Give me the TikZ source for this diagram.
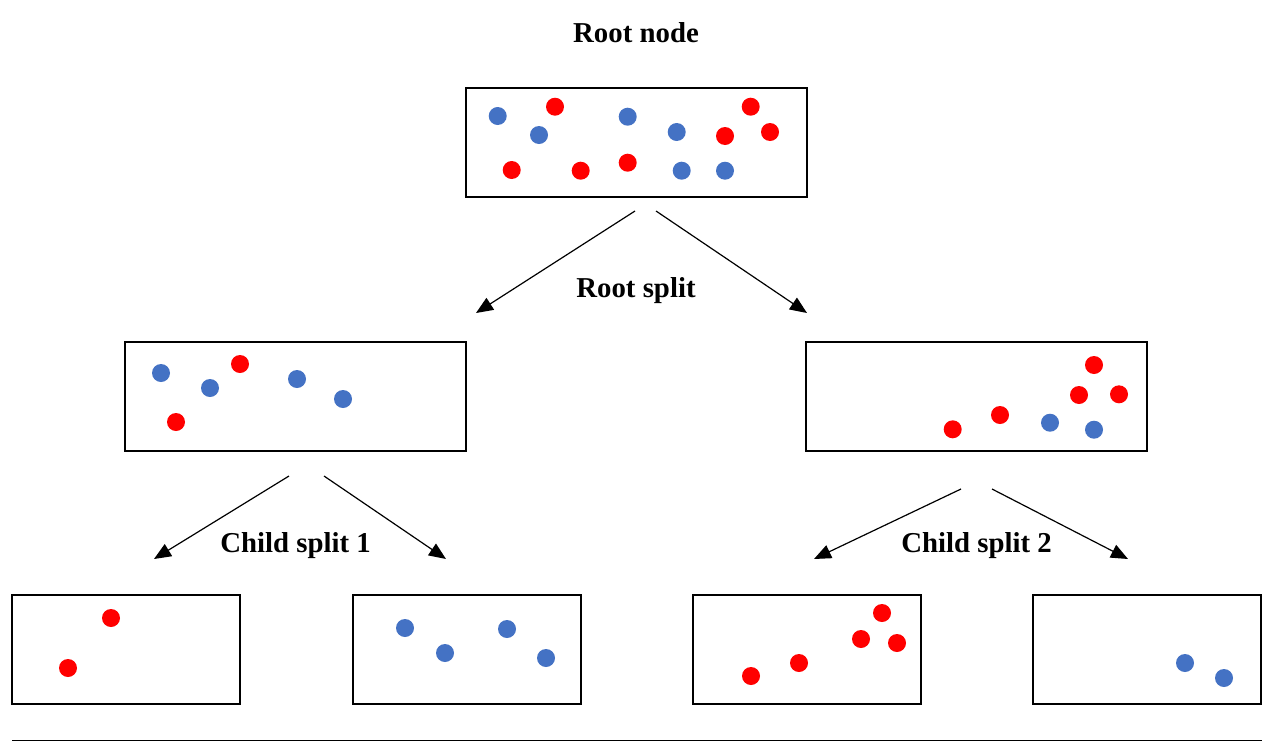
\documentclass[tikz,border=0pt]{standalone}
\usepackage{fontspec}
\setmainfont{Liberation Serif}
\usetikzlibrary{arrows.meta}
\definecolor{dotblue}{HTML}{4472C4}
\definecolor{dotred}{HTML}{FF0000}
\begin{document}
\begin{tikzpicture}[x=1pt,y=-1pt,
  box/.style={draw=black,line width=2pt,minimum width=#1,minimum height=109pt,inner sep=0pt},
  box/.default=341pt,
  lbl/.style={font=\bfseries\fontsize{28.8}{34}\selectfont,anchor=base,inner sep=0pt},
  split/.style={line width=1.2pt,-{Triangle[length=17pt,width=14pt]}},
  bdot/.style={fill=dotblue},
  rdot/.style={fill=dotred}]
\useasboundingbox (0,0) rectangle (1271,742);

% tree levels
\node[box] (root) at (636,142) {};
\node[box] (left) at (295.5,396.5) {};
\node[box] (right) at (976.5,396.5) {};
\node[box=228pt] (ll) at (126,649.5) {};
\node[box=228pt] (lr) at (466.5,649.5) {};
\node[box=228pt] (rl) at (806.5,649.5) {};
\node[box=228pt] (rr) at (1146.5,649.5) {};

% labels
\node[lbl] (tRoot) at (636,42) {Root node};
\node[lbl] (tSplit) at (636,297) {Root split};
\node[lbl] (tC1) at (295.5,552) {Child split 1};
\node[lbl] (tC2) at (976.5,552) {Child split 2};

% dots in the root node
\foreach \px/\py in {497.7/116, 539/135, 627.7/116.7, 676.7/132, 681.7/170.7, 725/170.7}
  \fill[bdot] (\px,\py) circle (9);
\foreach \px/\py in {555/106.7, 725/136, 750.7/106.7, 770/132, 511.7/170, 580.7/170.7, 627.7/162.7}
  \fill[rdot] (\px,\py) circle (9);

% dots in the left child
\foreach \px/\py in {161/373, 210/388, 297/379, 343/399}
  \fill[bdot] (\px,\py) circle (9);
\foreach \px/\py in {240/364, 176/422}
  \fill[rdot] (\px,\py) circle (9);

% dots in the right child
\foreach \px/\py in {1050/422.7, 1094/429.7}
  \fill[bdot] (\px,\py) circle (9);
\foreach \px/\py in {1094/365, 1079/395, 1119/394.3, 1000/415, 952.7/429.3}
  \fill[rdot] (\px,\py) circle (9);

% dots in the leaves
\foreach \px/\py in {111/618, 68/668, 882/613, 861/639, 897/643, 799/663, 751/676}
  \fill[rdot] (\px,\py) circle (9);
\foreach \px/\py in {405/628, 445/653, 507/629, 546/658, 1185/663, 1224/678}
  \fill[bdot] (\px,\py) circle (9);

% connector end points
\coordinate (rA) at (635,211);
\coordinate (rB) at (656,211);
\coordinate (lA) at (289,476);
\coordinate (lB) at (324,476);
\coordinate (gA) at (961,489);
\coordinate (gB) at (992,489);
\coordinate (eL) at (476,313);
\coordinate (eR) at (807,313);
\coordinate (eLL) at (154,559);
\coordinate (eLR) at (446,559);
\coordinate (eRL) at (814,559);
\coordinate (eRR) at (1128,559);

\draw[split] (rA) -- (eL);
\draw[split] (rB) -- (eR);
\draw[split] (lA) -- (eLL);
\draw[split] (lB) -- (eLR);
\draw[split] (gA) -- (eRL);
\draw[split] (gB) -- (eRR);

% rule at the foot
\coordinate (ruleA) at (12,740.5);
\coordinate (ruleB) at (1262,740.5);
\draw[line width=1.3pt] (ruleA) -- (ruleB);
\end{tikzpicture}
\end{document}
